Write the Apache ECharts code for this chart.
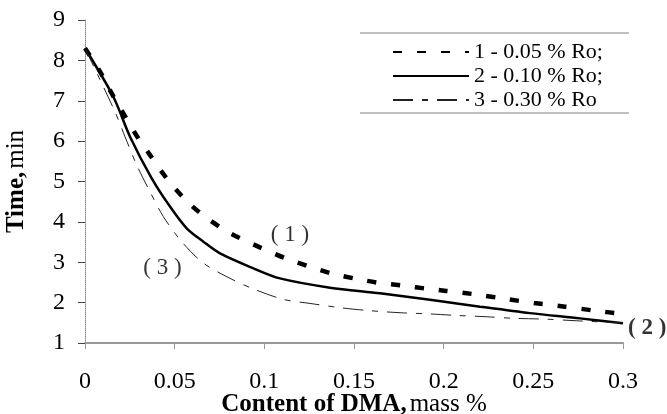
<!DOCTYPE html>
<html>
<head>
<meta charset="utf-8">
<script src="https://cdn.jsdelivr.net/npm/echarts@6/dist/echarts.min.js"></script>
<style>
  html, body { margin: 0; padding: 0; background: #fff; }
  #chart { width: 667px; height: 414px; }
</style>
</head>
<body>
<div id="chart"></div>
<script>
// time vs DMA content, one curve per Ro concentration
const seriesNames = ['1 - 0.05 % Ro;', '2 - 0.10 % Ro;', '3 - 0.30 % Ro']

const ro005 = [
  [0, 8.3], [0.0084, 7.72], [0.0149, 7.18], [0.0223, 6.62], [0.0297, 6.07],
  [0.0362, 5.66], [0.0428, 5.24], [0.0502, 4.83], [0.0589, 4.42], [0.0688, 4.07],
  [0.0809, 3.72], [0.0985, 3.35], [0.1134, 3.07], [0.1255, 2.89], [0.1385, 2.71],
  [0.1524, 2.58], [0.164, 2.49], [0.1775, 2.42], [0.1914, 2.34], [0.2013, 2.29],
  [0.2184, 2.2], [0.2348, 2.09], [0.2504, 1.99], [0.2677, 1.9], [0.2844, 1.8],
  [0.3, 1.72]
]
const ro010 = [
  [0, 8.3], [0.0158, 7.1], [0.0251, 6.11], [0.0372, 5.08], [0.0474, 4.38],
  [0.0567, 3.84], [0.066, 3.51], [0.0753, 3.22], [0.0939, 2.85], [0.1087, 2.6],
  [0.1366, 2.37], [0.1645, 2.23], [0.1924, 2.07], [0.2203, 1.9], [0.2481, 1.74],
  [0.276, 1.61], [0.3, 1.49]
]
const ro030 = [
  [0, 8.3], [0.0167, 6.73], [0.0223, 6.11], [0.0288, 5.41], [0.0362, 4.75],
  [0.0437, 4.13], [0.0539, 3.51], [0.066, 2.98], [0.0809, 2.6], [0.0939, 2.34],
  [0.1106, 2.08], [0.1255, 1.98], [0.1431, 1.87], [0.1589, 1.8], [0.1757, 1.75],
  [0.1924, 1.72], [0.2082, 1.68], [0.224, 1.65], [0.2398, 1.61], [0.2575, 1.59],
  [0.2742, 1.55], [0.3, 1.5]
]

// curve labels "(1)", "(2)", "(3)" placed in data coordinates
const noteText = ['( 1 )', '( 2 )', '( 3 )']
const noteX = [0.1143, 0.3135, 0.0432]
const noteY = [3.68, 1.37, 2.85]
const noteBold = [false, true, false]

const xTickLabels = ['0', '0.05', '0.1', '0.15', '0.2', '0.25', '0.3']
const yTickLabels = ['1', '2', '3', '4', '5', '6', '7', '8', '9']

const serif = '"Liberation Serif", "Times New Roman", serif'

const chart = echarts.init(document.getElementById('chart'))

const option = {
  backgroundColor: '#fff',
  animation: false,
  textStyle: { fontFamily: serif, color: '#000' },
  grid: { left: 85, right: 44, top: 20, bottom: 71, outerBoundsMode: 'none' },
  legend: {
    orient: 'vertical',
    left: 387,
    top: 36,
    data: seriesNames,
    itemWidth: 76,
    itemHeight: 14,
    itemGap: 2,
    itemStyle: { opacity: 0 },
    textStyle: { fontFamily: serif, fontSize: 22, lineHeight: 22, color: '#000' }
  },
  graphic: [
    { type: 'line', shape: { x1: 360, y1: 33, x2: 629, y2: 33 }, style: { stroke: '#aaa', lineWidth: 1.5 } },
    { type: 'line', shape: { x1: 360, y1: 113, x2: 629, y2: 113 }, style: { stroke: '#aaa', lineWidth: 1.5 } }
  ],
  xAxis: {
    type: 'value',
    min: 0,
    max: 0.3,
    interval: 0.05,
    name: '{b|Content of DMA,} {n|mass %}',
    nameLocation: 'middle',
    nameGap: 49,
    nameMoveOverlap: false,
    nameTextStyle: {
      rich: {
        b: { fontFamily: serif, fontSize: 25, fontWeight: 'bold', color: '#000' },
        n: { fontFamily: serif, fontSize: 25, color: '#000' }
      }
    },
    axisLine: { show: true, lineStyle: { color: '#999', width: 2 } },
    axisTick: { show: true, length: 6, lineStyle: { color: '#999' } },
    axisLabel: {
      margin: 27,
      fontFamily: serif,
      fontSize: 24,
      color: '#000',
      formatter: (v, i) => xTickLabels[i]
    },
    splitLine: { show: false }
  },
  yAxis: {
    type: 'value',
    min: 1,
    max: 9,
    interval: 1,
    name: '{b|Time,} {n|min}',
    nameLocation: 'middle',
    nameGap: 56,
    nameMoveOverlap: false,
    nameTextStyle: {
      rich: {
        b: { fontFamily: serif, fontSize: 25, fontWeight: 'bold', color: '#000' },
        n: { fontFamily: serif, fontSize: 25, color: '#000' }
      }
    },
    axisLine: { show: true, lineStyle: { color: '#888', width: 1, type: 'dotted' } },
    axisTick: { show: true, length: 7, lineStyle: { color: '#444' } },
    axisLabel: {
      margin: 20,
      fontFamily: serif,
      fontSize: 24,
      color: '#000',
      formatter: (v, i) => yTickLabels[i]
    },
    splitLine: { show: false }
  },
  series: [
    {
      name: seriesNames[0],
      type: 'line',
      data: ro005,
      smooth: 0.3,
      symbol: 'none',
      lineStyle: { color: '#000', width: 4.5, type: [9, 15] },
      itemStyle: { color: '#000' }
    },
    {
      name: seriesNames[1],
      type: 'line',
      data: ro010,
      smooth: 0.3,
      symbol: 'none',
      lineStyle: { color: '#000', width: 2.5 },
      itemStyle: { color: '#000' }
    },
    {
      name: seriesNames[2],
      type: 'line',
      data: ro030,
      smooth: 0.3,
      symbol: 'none',
      lineStyle: { color: '#222', width: 1, type: [20, 9, 6, 9] },
      itemStyle: { color: '#222' }
    },
    {
      name: 'notes',
      type: 'scatter',
      clip: false,
      symbolSize: 1,
      itemStyle: { color: 'rgba(0,0,0,0)' },
      silent: true,
      data: noteText.map((t, i) => ({
        value: [noteX[i], noteY[i]],
        label: {
          show: true,
          position: 'inside',
          formatter: t,
          fontFamily: serif,
          fontSize: 23,
          fontWeight: noteBold[i] ? 'bold' : 'normal',
          color: '#000'
        }
      }))
    }
  ]
}

chart.setOption(option)
</script>
</body>
</html>
